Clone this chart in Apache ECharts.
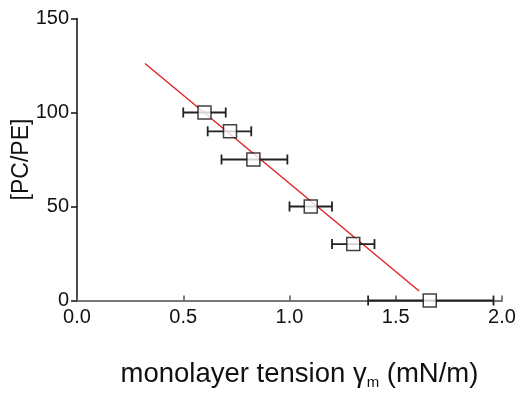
<!DOCTYPE html>
<html>
<head>
<meta charset="utf-8">
<script src="https://cdn.jsdelivr.net/npm/echarts@6/dist/echarts.min.js"></script>
<style>
  html, body { margin: 0; padding: 0; background: #fff; }
  #chart { width: 518px; height: 397px; }
</style>
</head>
<body>
<div id="chart"></div>
<script>
// measured points: monolayer tension vs PC/PE ratio
var tension = [0.60, 0.72, 0.83, 1.10, 1.30, 1.66];
var ratio = [100, 90, 75, 50, 30, 0];
var tensionLow = [0.50, 0.615, 0.68, 1.00, 1.20, 1.37];
var tensionHigh = [0.70, 0.82, 0.99, 1.20, 1.40, 1.96];
// linear fit endpoints
var fitX = [0.32, 1.61];
var fitY = [126, 5];

var chartDom = document.getElementById('chart');
var myChart = echarts.init(chartDom);

var points = tension.map(function (t, i) { return [t, ratio[i]]; });
var bars = tension.map(function (t, i) { return [tensionLow[i], tensionHigh[i], ratio[i]]; });
var fit = fitX.map(function (x, i) { return [x, fitY[i]]; });

var option = {
    backgroundColor: '#fff',
    animation: false,
    grid: {
        left: 77,
        right: 16,
        top: 18.5,
        bottom: 96.5,
        outerBoundsMode: 'none'
    },
    xAxis: {
        type: 'value',
        min: 0,
        max: 2,
        interval: 0.5,
        name: 'monolayer tension γ{s|m} (mN/m)',
        nameLocation: 'middle',
        nameGap: 58,
        nameMoveOverlap: false,
        nameTextStyle: {
            color: '#111',
            fontSize: 27.5,
            fontFamily: 'Liberation Sans',
            padding: [0, 0, 0, 20],
            rich: {
                s: { fontSize: 15, fontFamily: 'Liberation Sans', color: '#111', padding: [17, 0, 0, 0] }
            }
        },
        axisLine: { lineStyle: { color: '#777', width: 2 } },
        axisTick: { inside: true, length: 5, lineStyle: { color: '#555', width: 1.5 } },
        axisLabel: {
            color: '#111',
            fontSize: 20,
            fontFamily: 'Liberation Sans',
            margin: 7,
            formatter: function (v) { return v.toFixed(1); }
        },
        splitLine: { show: false }
    },
    yAxis: {
        type: 'value',
        min: 0,
        max: 150,
        interval: 50,
        name: '[PC/PE]',
        nameLocation: 'middle',
        nameGap: 44,
        nameMoveOverlap: false,
        nameTextStyle: {
            color: '#111',
            fontSize: 23,
            fontFamily: 'Liberation Sans'
        },
        axisLine: { show: true, lineStyle: { color: '#111', width: 1.5 } },
        axisTick: { length: 6, lineStyle: { color: '#111', width: 1.5 } },
        axisLabel: {
            color: '#111',
            fontSize: 20,
            fontFamily: 'Liberation Sans',
            margin: 8
        },
        splitLine: { show: false }
    },
    series: [
        {
            type: 'line',
            data: fit,
            symbol: 'none',
            lineStyle: { color: '#e31a1c', width: 1.3 },
            z: 2
        },
        {
            type: 'custom',
            data: bars,
            z: 3,
            renderItem: function (params, api) {
                var lo = api.coord([api.value(0), api.value(2)]);
                var hi = api.coord([api.value(1), api.value(2)]);
                var cap = 5;
                var style = { stroke: '#222', lineWidth: 1.8 };
                return {
                    type: 'group',
                    children: [
                        { type: 'line', shape: { x1: lo[0], y1: lo[1], x2: hi[0], y2: hi[1] }, style: style },
                        { type: 'line', shape: { x1: lo[0], y1: lo[1] - cap, x2: lo[0], y2: lo[1] + cap }, style: style },
                        { type: 'line', shape: { x1: hi[0], y1: hi[1] - cap, x2: hi[0], y2: hi[1] + cap }, style: style }
                    ]
                };
            }
        },
        {
            type: 'scatter',
            data: points,
            symbol: 'rect',
            symbolSize: 13,
            itemStyle: { color: '#fff', borderColor: '#111', borderWidth: 1.5 },
            z: 4
        }
    ]
};
option && myChart.setOption(option);
</script>
</body>
</html>
